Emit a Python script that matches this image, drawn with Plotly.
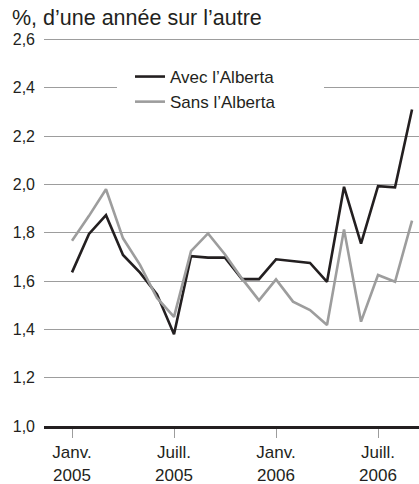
import plotly.graph_objects as go

months = list(range(21))  # Jan 2005 .. Sep 2006
avec_alberta = [1.636, 1.795, 1.873, 1.708, 1.635, 1.545, 1.38, 1.703, 1.697, 1.697, 1.608, 1.608,
                1.690, 1.684, 1.675, 1.597, 1.99, 1.755, 1.993, 1.988, 2.31]
sans_alberta = [1.767, 1.87, 1.98, 1.777, 1.667, 1.53, 1.452, 1.724, 1.797, 1.71, 1.61, 1.52,
                1.607, 1.515, 1.48, 1.418, 1.814, 1.432, 1.625, 1.597, 1.85]
x_tickvals = [0, 6, 12, 18]
x_ticktext = ["Janv.<br>2005", "Juill.<br>2005", "Janv.<br>2006", "Juill.<br>2006"]
y_tickvals = [1.0, 1.2, 1.4, 1.6, 1.8, 2.0, 2.2, 2.4, 2.6]
y_ticktext = ["1,0", "1,2", "1,4", "1,6", "1,8", "2,0", "2,2", "2,4", "2,6"]

FONT = "Liberation Sans, Arial, sans-serif"
INK = "#231f20"
GRAY = "#9d9d9d"

# plot area in pixels: x 44..419, y 38..426
PT, PB = 38, 426
PH = PB - PT

fig = go.Figure()
fig.add_trace(go.Scatter(x=months, y=avec_alberta, mode="lines", name="Avec l’Alberta",
                         line=dict(color=INK, width=2.6)))
fig.add_trace(go.Scatter(x=months, y=sans_alberta, mode="lines", name="Sans l’Alberta",
                         line=dict(color=GRAY, width=2.6)))

# white box behind legend hiding the gridline
fig.add_shape(type="rect", xref="paper", yref="paper",
              x0=(117 - 44) / 375, x1=(324 - 44) / 375,
              y0=(PB - 112) / PH, y1=(PB - 60) / PH,
              fillcolor="white", line=dict(width=0), layer="above")

fig.update_layout(
    width=419, height=484,
    margin=dict(l=44, r=0, t=PT, b=484 - PB),
    paper_bgcolor="white", plot_bgcolor="white",
    font=dict(family=FONT, color=INK, size=16),
    title=dict(text="%, d’une année sur l’autre", xref="container", yref="container",
               x=12 / 419, xanchor="left", y=1 - 17 / 484, yanchor="middle",
               font=dict(family=FONT, size=21.5, color=INK)),
    showlegend=True,
    legend=dict(x=(130 - 44) / 375, xanchor="left", y=(PB - 59) / PH, yanchor="top",
                bgcolor="rgba(0,0,0,0)", borderwidth=0,
                font=dict(family=FONT, size=17, color=INK)),
    xaxis=dict(range=[-1.647, 20.41], tickvals=x_tickvals, ticktext=x_ticktext,
               showgrid=False, zeroline=False, showline=True, linecolor=INK, linewidth=3,
               ticks="outside", ticklen=9, tickwidth=1, tickcolor=GRAY,
               tickfont=dict(family=FONT, size=17, color=INK)),
    yaxis=dict(range=[1.0, 2.6 + 0.2 * 1.5 / 48.3], tickvals=y_tickvals, ticktext=y_ticktext,
               showgrid=True, gridcolor=GRAY, gridwidth=1, zeroline=False, showline=False,
               ticks="", ticklabelstandoff=8,
               tickfont=dict(family=FONT, size=16, color=INK)),
)

fig.write_html("out.html", config={"displayModeBar": False},
               post_script="document.body.style.margin='0';document.body.style.overflow='hidden';")
